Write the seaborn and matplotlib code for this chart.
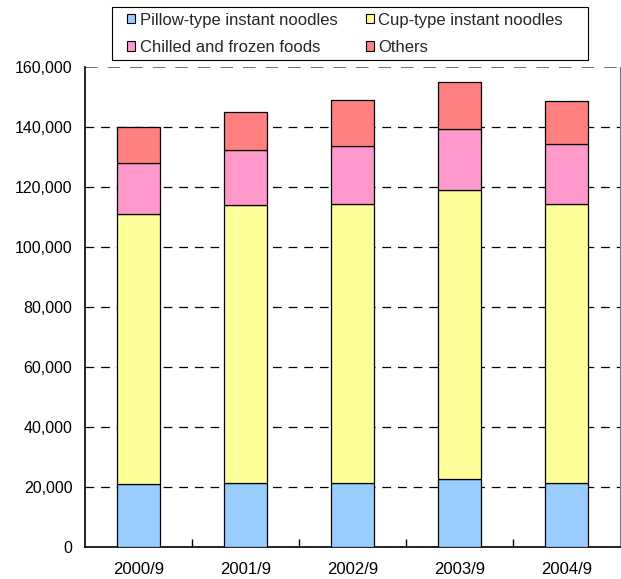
import matplotlib
matplotlib.use("Agg")
import matplotlib.pyplot as plt
from matplotlib.patches import Patch, Rectangle
from matplotlib.ticker import FuncFormatter, FixedLocator
import pandas as pd
import seaborn as sns

periods = ["2000/9", "2001/9", "2002/9", "2003/9", "2004/9"]
pillow = [20800, 21100, 21300, 22600, 21300]
cup = [90200, 92800, 92900, 96400, 92800]
chilled = [17000, 18200, 19500, 20200, 20000]
others = [12000, 12700, 15200, 15800, 14600]

series_names = ["Pillow-type instant noodles", "Cup-type instant noodles",
                "Chilled and frozen foods", "Others"]
series_values = [pillow, cup, chilled, others]
colors = ["#99CCFF", "#FFFF99", "#FF99CC", "#FF8080"]

sns.set_theme(style="white")
plt.rcParams["font.family"] = ["Liberation Sans", "DejaVu Sans"]

W, H = 621, 579
fig = plt.figure(figsize=(W / 100, H / 100), dpi=100)
ax = fig.add_axes([85 / W, 1 - 546.7 / H, 535 / W, 480 / H])

bottom = [0] * len(periods)
for name, vals, col in zip(series_names, series_values, colors):
    df = pd.DataFrame({"period": periods, "value": vals})
    sns.barplot(data=df, x="period", y="value", color=col, width=0.4,
                bottom=bottom, edgecolor="black", linewidth=0.9,
                saturation=1, ax=ax, zorder=3)
    bottom = [b + v for b, v in zip(bottom, vals)]

ax.set_xlim(-0.5, len(periods) - 0.5)
ax.set_ylim(0, 160000)
ax.set_yticks(range(0, 160001, 20000))
ax.yaxis.set_major_formatter(FuncFormatter(lambda v, p: f"{int(v):,}"))
ax.set_xlabel("")
ax.set_ylabel("")

ax.yaxis.grid(True, color="black", linestyle=(0, (7, 5.5)), linewidth=0.9, zorder=0)
ax.xaxis.grid(False)
ax.set_axisbelow(True)
# the gridline at the top of the scale is lighter
ax.get_ygridlines()[-1].set_color("#666666")
ax.get_ygridlines()[-1].set_linewidth(1.3)

for side in ["left", "bottom"]:
    ax.spines[side].set_color("black")
    ax.spines[side].set_linewidth(1.2)
ax.spines["right"].set_color("#777777")
ax.spines["right"].set_linewidth(0.8)
ax.spines["top"].set_visible(False)

ax.tick_params(axis="y", length=0, pad=9, labelsize=11.5, colors="black")
ax.tick_params(axis="x", which="major", length=0, pad=11, labelsize=12, colors="black")
ax.xaxis.set_minor_locator(FixedLocator([i + 0.5 for i in range(len(periods) - 1)]))
ax.tick_params(axis="x", which="minor", direction="in", length=6, width=1,
               color="black", bottom=True)

# legend filled row by row: (Pillow, Cup) / (Chilled, Others)
handles = [Patch(facecolor=c, edgecolor="black", linewidth=0.8, label=n)
           for n, c in zip(series_names, colors)]
order = [0, 2, 1, 3]
leg = fig.legend(handles=[handles[i] for i in order], ncol=2, loc="upper left",
                 bbox_to_anchor=(127 / W, 1 - 12.5 / H), frameon=False,
                 fontsize=12, handlelength=0.5, handleheight=0.5,
                 handletextpad=0.25, columnspacing=1.7,
                 labelspacing=0.74, borderpad=0, borderaxespad=0)
fig.add_artist(Rectangle((111.7 / W, 1 - 60 / H), 476 / W, 53 / H,
                         transform=fig.transFigure, facecolor="none",
                         edgecolor="black", linewidth=0.8))

fig.savefig("out.png", dpi=100)
